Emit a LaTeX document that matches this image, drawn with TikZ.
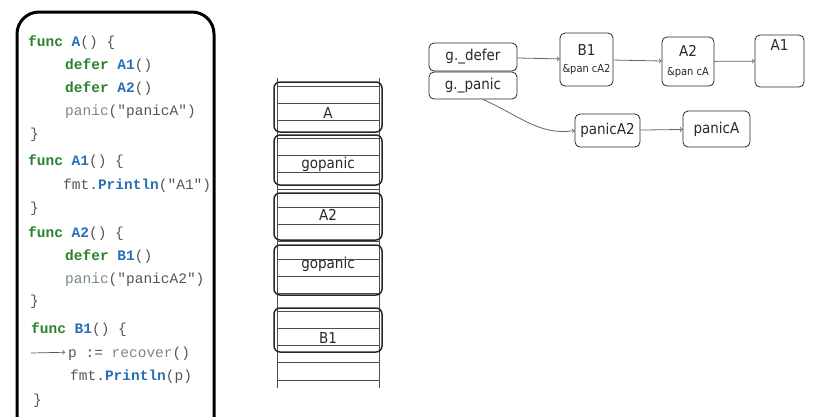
\documentclass[tikz,border=0pt]{standalone}
\usepackage{fontspec}
\usepackage{xcolor}
\usetikzlibrary{arrows, calc, positioning}
\newfontfamily\codefont{Liberation Mono}
\newfontfamily\handfont{DejaVu Sans Condensed}
\definecolor{kwgreen}{RGB}{40,130,45}
\definecolor{fnblue}{RGB}{40,110,185}
\definecolor{codegray}{RGB}{85,85,85}
\definecolor{bigray}{RGB}{120,138,128}
\definecolor{inkgray}{RGB}{40,40,40}
\newcommand{\kw}[1]{\textcolor{kwgreen}{\bfseries #1}}
\newcommand{\fn}[1]{\textcolor{fnblue}{\bfseries #1}}
\newcommand{\bi}[1]{\textcolor{bigray}{#1}}

\begin{document}
\begin{tikzpicture}[
    x=1pt, y=-1pt,
    >=to,
    code/.style={anchor=base west, inner sep=0, yshift=-5pt, text=codegray, font=\codefont\fontsize{14.5}{18}\selectfont},
    frame/.style={draw=inkgray, line width=1.5pt, rounded corners=6pt, minimum width=108pt, inner sep=0},
    ftext/.style={inner sep=0, text=inkgray, font=\handfont\fontsize{15}{18}\selectfont},
    box/.style={draw=inkgray, line width=0.8pt, rounded corners=5pt, inner sep=2pt, text=inkgray, font=\handfont\fontsize{15}{18}\selectfont},
    arrow/.style={->, draw=gray!80!black, line width=0.8pt}
]
\useasboundingbox (0,0) rectangle (817,416);

% Code
\draw[line width=3pt, rounded corners=22pt] (17,12) rectangle (214,440);
\node[code] (fA)   at (28,41)  {\kw{func} \fn{A}() \{};
\node[code] (dA1)  at (65,64)  {\kw{defer} \fn{A1}()};
\node[code] (dA2)  at (65,87)  {\kw{defer} \fn{A2}()};
\node[code] (pA)   at (65,110) {\bi{panic}("panicA")};
\node[code] (eA)   at (30,133) {\}};
\node[code] (fA1)  at (28,160) {\kw{func} \fn{A1}() \{};
\node[code] (prA1) at (63,184) {fmt.\fn{Println}("A1")};
\node[code] (eA1)  at (30,207) {\}};
\node[code] (fA2)  at (28,232) {\kw{func} \fn{A2}() \{};
\node[code] (dB1)  at (65,255) {\kw{defer} \fn{B1}()};
\node[code] (pA2)  at (65,278) {\bi{panic}("panicA2")};
\node[code] (eA2)  at (30,300) {\}};
\node[code] (fB1)  at (31,328) {\kw{func} \fn{B1}() \{};
\node[code] (recv) at (68,352) {p := \bi{recover}()};
\node[code] (prB1) at (70,375) {fmt.\fn{Println}(p)};
\node[code] (eB1)  at (33,399) {\}};
\coordinate (recvtail) at (31,353);
\draw[->, codegray, line width=0.7pt] (recvtail) -- ($(recv.west)+(-3,-1)$);

% Stack
\draw[gray!60!black, line width=0.7pt] (277,78) -- (277,388) (379,78) -- (379,388);
\foreach \k in {0,...,17}
    \draw[gray!60!black, line width=0.7pt] (277,86+17.3*\k) -- (379,86+17.3*\k);
\node[frame, minimum height=50pt] (sA)  at (328,107)   {};
\node[frame, minimum height=50pt] (sG1) at (328,160)   {};
\node[frame, minimum height=47pt] (sA2) at (328,216.5) {};
\node[frame, minimum height=50pt] (sG2) at (328,270)   {};
\node[frame, minimum height=44pt] (sB1) at (328,330)   {};
\node[ftext] (tA)  at (328,113) {A};
\node[ftext] (tG1) at (328,164) {gopanic};
\node[ftext] (tA2) at (328,215) {A2};
\node[ftext] (tG2) at (328,264) {gopanic};
\node[ftext] (tB1) at (328,338) {B1};

% Defer and panic lists
\node[box, minimum width=88pt, minimum height=28pt] (gdefer) at (473,57)   {g.\_defer};
\node[box, minimum width=88pt, minimum height=27pt] (gpanic) at (473,85.5) {g.\_panic};
\node[box, minimum width=53pt, minimum height=53pt, align=center] (b1) at (586.5,59.5) {B1\\[-1pt]{\handfont\fontsize{11}{13}\selectfont\&pan cA2}};
\node[box, minimum width=52pt, minimum height=49pt, align=center] (a2) at (688,61.5) {A2\\[1pt]{\handfont\fontsize{11}{13}\selectfont\&pan cA}};
\node[box, minimum width=49pt, minimum height=52pt,
      label={[box, draw=none, anchor=north, yshift=-3pt]north:A1}] (a1) at (779.5,61) {};
\node[box, minimum width=65pt, minimum height=33pt] (panica2) at (607.5,130.5) {panicA2};
\node[box, minimum width=67pt, minimum height=36pt] (panica)  at (716.5,129)   {panicA};

\draw[arrow] (gdefer) -- (b1);
\draw[arrow] (b1) -- (a2);
\draw[arrow] (a2) -- (a1);
\draw[arrow] ([xshift=10pt]gpanic.south) .. controls (520,116) and (540,136) .. (panica2.west);
\draw[arrow] (panica2) -- (panica);

\end{tikzpicture}
\end{document}
